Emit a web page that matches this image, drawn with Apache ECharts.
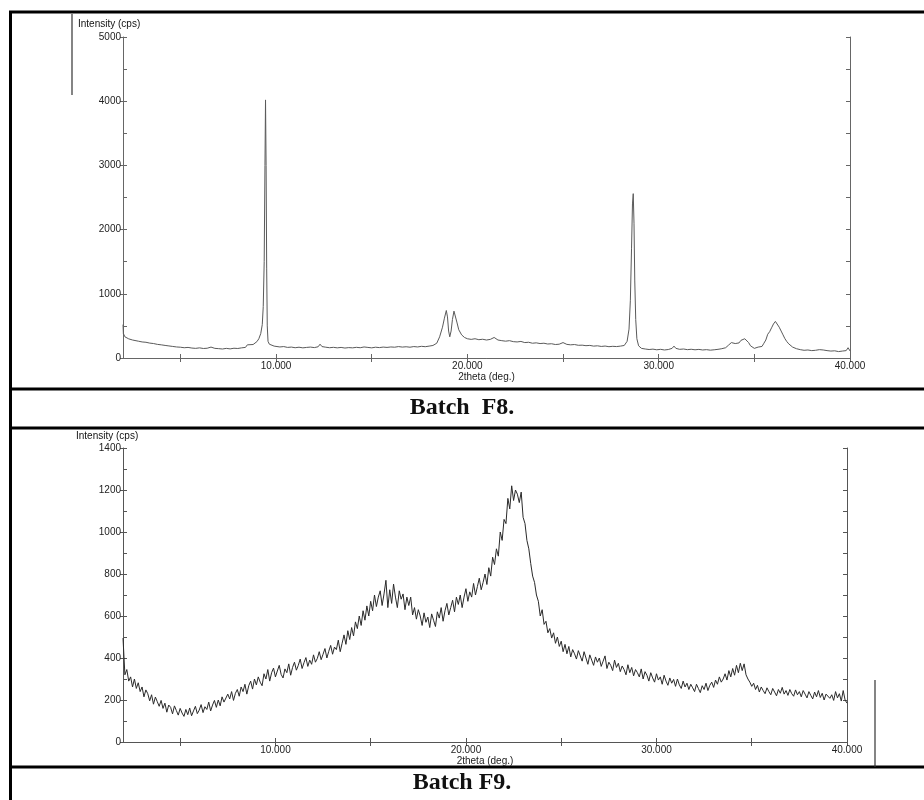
<!DOCTYPE html>
<html><head><meta charset="utf-8">
<script src="https://cdn.jsdelivr.net/npm/echarts@6/dist/echarts.min.js"></script>
<style>html,body{margin:0;padding:0;background:#fff}#c{width:924px;height:800px}</style>
</head><body><div id="c"></div>
<script>
// ---------- DATA ----------
// Batch F8: [2theta, intensity]
const f8Points = [
[2.00,520],[2.02,380],[2.1,330],[2.2,305],[2.3,298],[2.4,285],[2.5,280],[2.6,268],[2.8,262],[3.0,250],
[3.2,245],[3.4,232],[3.6,225],[3.8,212],[4.0,205],[4.2,196],[4.4,188],[4.6,180],[4.8,172],[5.0,168],
[5.2,160],[5.4,165],[5.6,155],[5.8,150],[6.0,158],[6.2,148],[6.4,152],[6.6,170],[6.8,150],[7.0,146],
[7.2,140],[7.4,150],[7.6,142],[7.8,152],[8.0,148],[8.2,158],[8.4,165],[8.5,205],[8.6,180],[8.8,210],
[8.9,230],[9.0,255],[9.1,300],[9.2,380],[9.28,520],[9.33,800],[9.38,1500],[9.42,3000],[9.45,4020],[9.48,3000],
[9.51,1400],[9.54,500],[9.58,260],[9.65,215],[9.75,195],[9.9,185],[10.0,180],[10.2,172],[10.4,178],[10.6,165],
[10.8,170],[11.0,160],[11.2,168],[11.4,158],[11.6,165],[11.8,170],[12.0,162],[12.2,175],[12.3,215],[12.4,178],
[12.6,168],[12.8,160],[13.0,166],[13.2,158],[13.4,165],[13.6,155],[13.8,162],[14.0,158],[14.2,166],[14.4,160],
[14.6,172],[14.8,165],[15.0,158],[15.2,168],[15.4,162],[15.6,170],[15.8,165],[16.0,172],[16.2,168],[16.4,178],
[16.6,170],[16.8,175],[17.0,168],[17.2,178],[17.4,172],[17.6,182],[17.8,176],[18.0,185],[18.2,195],[18.4,230],
[18.55,330],[18.7,480],[18.8,620],[18.9,740],[18.96,640],[19.02,420],[19.08,330],[19.15,420],[19.22,600],[19.3,730],
[19.36,720],[19.45,560],[19.55,440],[19.7,360],[19.85,320],[20.0,300],[20.2,290],[20.4,300],[20.6,285],[20.8,292],
[21.0,280],[21.2,290],[21.4,320],[21.6,280],[21.8,270],[22.0,262],[22.2,270],[22.4,255],[22.6,250],[22.8,258],
[23.0,240],[23.2,245],[23.4,230],[23.6,236],[23.8,225],[24.0,230],[24.2,218],[24.4,222],[24.6,210],[24.8,215],
[25.0,240],[25.2,212],[25.4,205],[25.6,210],[25.8,198],[26.0,200],[26.2,192],[26.4,196],[26.6,185],[26.8,190],
[27.0,180],[27.2,186],[27.4,176],[27.6,182],[27.8,178],[28.0,185],[28.2,195],[28.35,260],[28.45,450],[28.52,900],
[28.58,1700],[28.63,2400],[28.67,2560],[28.71,2100],[28.75,1200],[28.8,600],[28.86,300],[28.95,190],[29.1,150],[29.3,140],
[29.5,132],[29.7,138],[29.9,128],[30.1,135],[30.3,125],[30.5,132],[30.7,150],[30.8,185],[30.9,150],[31.1,135],
[31.3,140],[31.5,130],[31.7,136],[31.9,128],[32.1,134],[32.3,125],[32.5,130],[32.7,122],[32.9,128],[33.1,135],
[33.3,145],[33.5,160],[33.65,200],[33.8,240],[33.9,258],[34.0,225],[34.1,215],[34.2,235],[34.3,275],[34.4,300],
[34.5,300],[34.6,285],[34.7,240],[34.8,190],[34.9,165],[35.0,150],[35.1,160],[35.2,170],[35.3,165],[35.4,180],
[35.5,230],[35.6,280],[35.7,370],[35.8,410],[35.9,470],[36.0,530],[36.1,570],[36.2,540],[36.3,480],[36.4,420],
[36.5,360],[36.6,300],[36.7,255],[36.8,220],[36.9,190],[37.0,170],[37.2,145],[37.4,130],[37.6,120],[37.8,125],
[38.0,115],[38.2,120],[38.4,130],[38.5,150],[38.6,125],[38.8,115],[39.0,108],[39.2,112],[39.4,100],[39.6,108],
[39.8,115],[39.9,160],[40.0,110]
];

// Batch F9: sampled every 0.1 deg from 2.0 to 40.0 (one row per degree)
const f9Start = 2.0;
const f9Step = 0.1;
const f9Values = [
495,320,345,290,310,262,300,255,282,240,
262,215,248,230,196,225,180,214,192,170,
198,160,185,142,176,165,134,172,150,128,
160,138,122,155,130,162,125,148,170,135,
152,178,140,168,155,190,148,176,198,165,
200,172,215,190,182,228,205,240,198,232,
250,218,262,240,275,228,268,290,252,300,
272,310,285,268,325,300,345,290,330,352,
310,338,365,322,305,348,330,372,318,355,
380,342,365,395,350,378,402,360,390,370,
415,380,398,430,392,418,445,400,432,460,
418,452,440,485,430,470,510,465,530,488,
545,505,572,540,600,555,625,580,648,600,
670,625,700,645,690,720,650,705,770,640,
725,660,752,690,640,720,680,705,630,690,
650,690,605,640,585,630,600,555,615,570,
595,545,610,580,550,620,590,640,575,625,
660,605,640,675,620,690,655,700,640,690,
730,670,715,690,755,700,740,780,725,760,
800,750,830,790,880,845,920,885,1000,960,
1060,1040,1160,1110,1220,1150,1200,1180,1140,1190,
1070,1040,960,920,850,790,760,700,670,600,
630,560,575,520,540,495,520,470,500,455,
480,430,465,420,455,405,440,420,395,435,
410,385,430,400,370,415,390,365,405,380,
400,360,385,410,350,380,365,340,390,355,
375,335,362,345,320,368,330,355,315,345,
330,310,348,300,335,318,290,330,305,285,
325,295,310,275,318,290,270,305,280,298,
265,300,272,255,290,262,280,250,275,258,
240,275,255,235,268,250,280,245,270,285,
260,295,275,310,285,300,325,295,340,310,
350,318,365,330,375,340,372,320,300,285,
265,280,250,270,238,262,245,230,258,240,
225,255,238,220,250,232,260,228,245,222,
250,230,218,248,225,240,215,245,228,210,
240,222,205,238,215,245,212,232,200,228,
236,208,225,198,240,210,230,195,245,200,
185
];

// axes / ticks
const xMin = 2, xMax = 40;
const xLabelValues = [10, 20, 30, 40];
const xTickValues = [5, 10, 15, 20, 25, 30, 35, 40];
const f8YMax = 5000, f8YLabelStep = 1000, f8YTickStep = 500;
const f9YMax = 1400, f9YLabelStep = 200, f9YTickStep = 100;
const yAxisTitle = 'Intensity (cps)';
const xAxisTitle = '2theta (deg.)';
const captions = ['Batch  F8.', 'Batch F9.'];

// ---------- CHART ----------
const FONT = '"Liberation Sans", Arial, sans-serif';
const chart = echarts.init(document.getElementById('c'), null, {renderer: 'canvas'});

function xAxesFor(g, color, nameGap) {
  const line = {show: true, lineStyle: {color: color, width: 1}};
  return [
    {type: 'value', gridIndex: g, position: 'bottom', min: xMin, max: xMax,
     axisLine: line,
     axisTick: {show: true, inside: true, length: 4, customValues: xTickValues, lineStyle: {color: color}},
     axisLabel: {customValues: xLabelValues, formatter: v => v.toFixed(3), fontSize: 10, color: '#222', fontFamily: FONT, margin: 3},
     splitLine: {show: false},
     name: xAxisTitle, nameLocation: 'middle', nameGap: nameGap,
     nameTextStyle: {fontSize: 10, color: '#222', fontFamily: FONT}},
    {type: 'value', gridIndex: g, position: 'top', min: xMin, max: xMax,
     axisLine: line,
     axisTick: {show: true, inside: true, length: 4, customValues: xTickValues, lineStyle: {color: color}},
     axisLabel: {show: false}, splitLine: {show: false}}
  ];
}
function yAxesFor(g, yMax, labelStep, tickStep, color) {
  const line = {show: true, lineStyle: {color: color, width: 1}};
  return [
    {type: 'value', gridIndex: g, position: 'left', min: 0, max: yMax, interval: labelStep,
     axisLine: line,
     axisTick: {show: true, inside: false, length: 3, lineStyle: {color: color}},
     axisLabel: {fontSize: 10, color: '#222', fontFamily: FONT, margin: 2, formatter: v => String(v)},
     splitLine: {show: false}},
    {type: 'value', gridIndex: g, position: 'left', min: 0, max: yMax, interval: tickStep,
     axisLine: {show: false},
     axisTick: {show: true, inside: true, length: 4, lineStyle: {color: color}},
     axisLabel: {show: false}, splitLine: {show: false}},
    {type: 'value', gridIndex: g, position: 'right', min: 0, max: yMax, interval: tickStep,
     axisLine: line,
     axisTick: {show: true, inside: true, length: 4, lineStyle: {color: color}},
     axisLabel: {show: false}, splitLine: {show: false}}
  ];
}

const f9Points = f9Values.map((v, i) => [+(f9Start + i * f9Step).toFixed(1), v]);

function hLine(x1, x2, y, w, c) {
  return {type: 'line', shape: {x1: x1, y1: y, x2: x2, y2: y}, style: {stroke: c || '#000', lineWidth: w}, silent: true};
}
function vLine(x, y1, y2, w, c) {
  return {type: 'line', shape: {x1: x, y1: y1, x2: x, y2: y2}, style: {stroke: c || '#000', lineWidth: w}, silent: true};
}
function label(text, x, y, font, align) {
  return {type: 'text', x: x, y: y, silent: true,
    style: {text: text, font: font, fill: '#111', align: align || 'left', verticalAlign: 'middle'}};
}

const CAPTION_FONT = 'bold 24px "Liberation Serif", "Times New Roman", serif';
const option = {
  animation: false,
  backgroundColor: '#fff',
  grid: [
    {left: 123, top: 37, right: 74, bottom: 442},
    {left: 123, top: 448, right: 77, bottom: 58}
  ],
  xAxis: [].concat(xAxesFor(0, '#666', 14), xAxesFor(1, '#555', 13)),
  yAxis: [].concat(yAxesFor(0, f8YMax, f8YLabelStep, f8YTickStep, '#666'),
                   yAxesFor(1, f9YMax, f9YLabelStep, f9YTickStep, '#555')),
  series: [
    {name: 'Batch F8', type: 'line', xAxisIndex: 0, yAxisIndex: 0, data: f8Points,
     showSymbol: false, symbol: 'none', lineStyle: {color: '#5a5a5a', width: 1}, silent: true},
    {name: 'Batch F9', type: 'line', xAxisIndex: 2, yAxisIndex: 3, data: f9Points,
     showSymbol: false, symbol: 'none', lineStyle: {color: '#2a2a2a', width: 1}, silent: true}
  ],
  graphic: [
    hLine(9, 924, 12, 3),
    vLine(10.5, 11, 800, 3),
    hLine(9, 924, 389, 3),
    hLine(9, 924, 428, 3),
    hLine(9, 924, 767, 3),
    vLine(72, 14, 95, 1.2, '#333'),
    vLine(875, 680, 767, 1.2, '#333'),
    label(yAxisTitle, 78, 24, '10px ' + FONT),
    label(yAxisTitle, 76, 436, '10px ' + FONT),
    label(captions[0], 462, 408, CAPTION_FONT, 'center'),
    label(captions[1], 462, 783, CAPTION_FONT, 'center')
  ]
};
chart.setOption(option);
</script>
</body></html>
